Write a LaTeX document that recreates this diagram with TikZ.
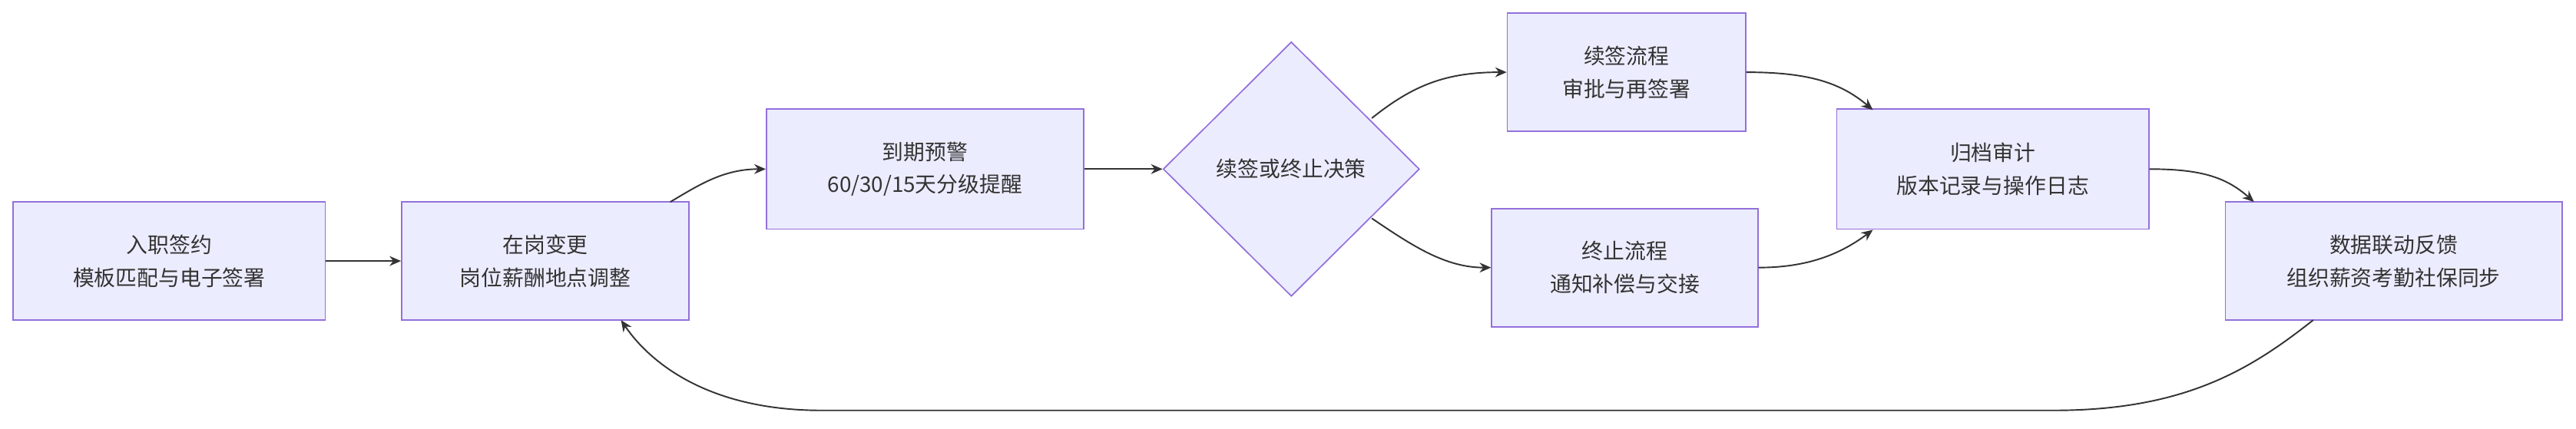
\documentclass[tikz,border=0pt]{standalone}
\usepackage{fontspec}
\setmainfont{Noto Sans CJK SC}
\usetikzlibrary{shapes.geometric,arrows.meta}
\begin{document}
\begin{tikzpicture}[x=1pt,y=-1pt,
 box/.style={draw=mmstroke,fill=mmfill,line width=0.8pt,align=center,font=\fontsize{13}{20}\selectfont,text=mmtext,inner sep=0pt},
 ar/.style={draw=mmline,line width=0.9pt,-{Stealth[length=7pt,width=6pt]}}]
\definecolor{mmfill}{HTML}{ECECFF}
\definecolor{mmstroke}{HTML}{9370DB}
\definecolor{mmtext}{HTML}{333333}
\definecolor{mmline}{HTML}{333333}
\useasboundingbox (0,0) rectangle (1568,261);
\node[box,minimum width=190,minimum height=72] (A) at (103,159) {入职签约\\模板匹配与电子签署};
\node[box,minimum width=175,minimum height=72] (B) at (332,159) {在岗变更\\岗位薪酬地点调整};
\node[box,minimum width=193,minimum height=73] (C) at (563,103) {到期预警\\60/30/15天分级提醒};
\node[box,diamond,minimum width=156,minimum height=155] (D) at (786,103) {续签或终止决策};
\node[box,minimum width=145,minimum height=72] (E) at (990,44) {续签流程\\审批与再签署};
\node[box,minimum width=162,minimum height=72] (F) at (989,163) {终止流程\\通知补偿与交接};
\node[box,minimum width=190,minimum height=73] (G) at (1213,103) {归档审计\\版本记录与操作日志};
\node[box,minimum width=205,minimum height=72] (H) at (1457,159) {数据联动反馈\\组织薪资考勤社保同步};
\coordinate (b1) at (408,123);
\coordinate (d1) at (835,72);
\coordinate (d2) at (835,133);
\coordinate (g1) at (1140,67);
\coordinate (g2) at (1140,140);
\coordinate (h1) at (1372,123);
\coordinate (h2) at (1408,195);
\coordinate (b2) at (378,195);
\draw[ar] (A) -- (B);
\draw[ar] (b1) .. controls (425,113) and (440,103) .. (C.west);
\draw[ar] (C) -- (D);
\draw[ar] (d1) .. controls (860,52) and (880,44) .. (E.west);
\draw[ar] (d2) .. controls (860,150) and (880,163) .. (F.west);
\draw[ar] (E.east) .. controls (1100,44) and (1120,50) .. (g1);
\draw[ar] (F.east) .. controls (1100,163) and (1120,155) .. (g2);
\draw[ar] (G.east) .. controls (1340,103) and (1355,108) .. (h1);
\draw[ar] (h2) .. controls (1370,225) and (1330,250) .. (1250,250) -- (500,250) .. controls (430,250) and (395,220) .. (b2);
\end{tikzpicture}
\end{document}
